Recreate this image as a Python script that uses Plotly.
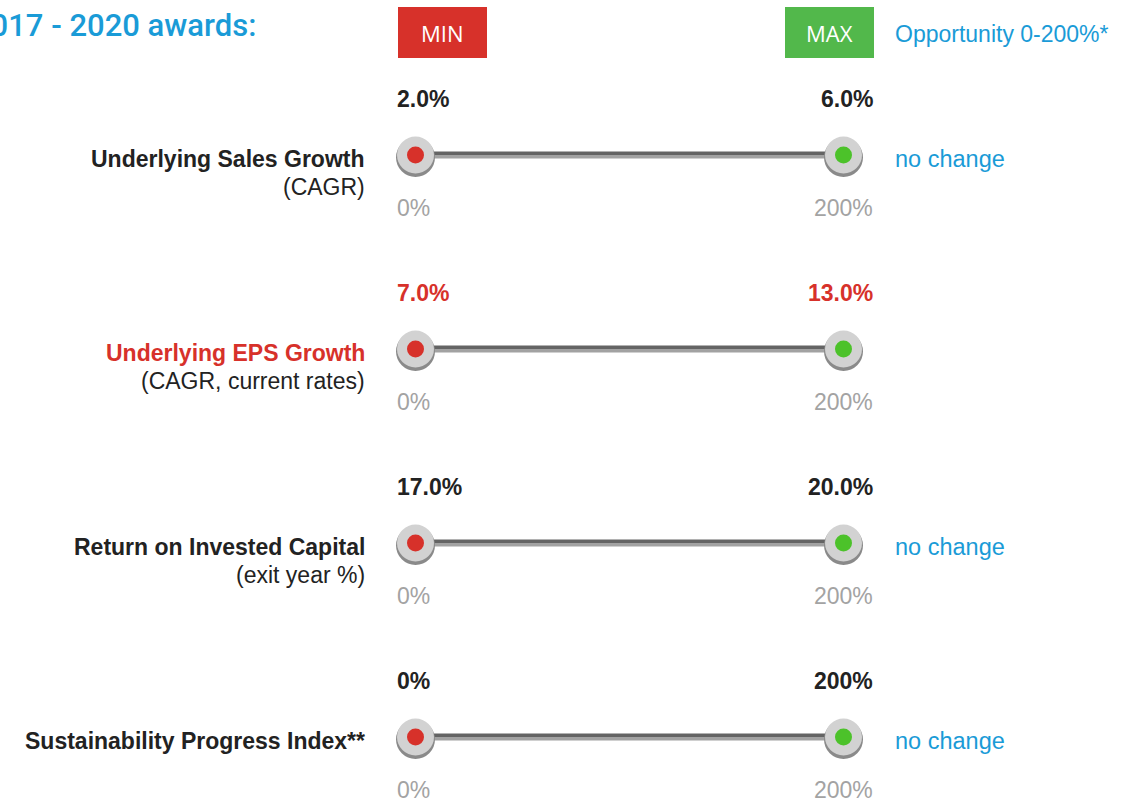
import plotly.graph_objects as go

# ---------------- data ----------------
metrics = ["Underlying Sales Growth", "Underlying EPS Growth",
           "Return on Invested Capital", "Sustainability Progress Index**"]
subtitles = ["(CAGR)", "(CAGR, current rates)", "(exit year %)", ""]
min_targets = ["2.0%", "7.0%", "17.0%", "0%"]
max_targets = ["6.0%", "13.0%", "20.0%", "200%"]
changes = ["no change", "", "no change", "no change"]
highlight = [False, True, False, False]
payout_min = 0
payout_max = 200
payout_labels = ["0%", "200%"]
title_text = "2017 - 2020 awards:"
opportunity_text = "Opportunity 0-200%*"

# ---------------- style ----------------
W, H = 1124, 805
RED = "#d7312a"
GREEN = "#52b84b"
DOT_GREEN = "#4cc22a"
BLUE = "#1a9bd7"
DARK = "#222222"
GREY_TXT = "#a3a3a3"
FONT = "Liberation Sans, Arial, sans-serif"
FS = 23

# x scale: payout %, placed so 0% at px 415.5 and 200% at px 843.5
px0, px200 = 415.5, 843.5
k = (px200 - px0) / 200.0
x_range = [(0 - px0) / k, (W - px0) / k]
# y scale: row index, row 0 at px 155, spacing 194
row_px0, row_step = 155, 194
y_range = [(H - row_px0) / row_step, (0 - row_px0) / row_step]

rows = list(range(len(metrics)))

fig = go.Figure()
shapes = []
annotations = []

for i in rows:
    # slider bar: dark top half, lighter bottom half
    shapes.append(dict(type="rect", xref="x", yref="y", ysizemode="pixel", yanchor=i,
                       x0=payout_min, x1=payout_max, y0=0, y1=3.5,
                       fillcolor="#646464", line=dict(width=0), layer="below"))
    shapes.append(dict(type="rect", xref="x", yref="y", ysizemode="pixel", yanchor=i,
                       x0=payout_min, x1=payout_max, y0=-3.5, y1=0,
                       fillcolor="#a2a2a2", line=dict(width=0), layer="below"))
    # handle shadows
    for v in (payout_min, payout_max):
        shapes.append(dict(type="circle", xref="x", yref="y",
                           xsizemode="pixel", ysizemode="pixel", xanchor=v, yanchor=i,
                           x0=-19.5, x1=19.5, y0=-22, y1=17,
                           fillcolor="#8a8a8a", line=dict(width=0), layer="below"))

# handles
fig.add_trace(go.Scatter(
    x=[payout_min] * len(rows) + [payout_max] * len(rows), y=rows + rows,
    mode="markers", marker=dict(size=37, color="#d2d2d2", line=dict(width=0)),
    hoverinfo="skip", showlegend=False))
fig.add_trace(go.Scatter(
    x=[payout_min] * len(rows), y=rows, mode="markers",
    marker=dict(size=17, color=RED, line=dict(width=0)),
    hoverinfo="skip", showlegend=False))
fig.add_trace(go.Scatter(
    x=[payout_max] * len(rows), y=rows, mode="markers",
    marker=dict(size=17, color=DOT_GREEN, line=dict(width=0)),
    hoverinfo="skip", showlegend=False))

def px_to_x(p):
    return (p - px0) / k

for i in rows:
    tcol = RED if highlight[i] else DARK
    # target labels
    annotations.append(dict(x=px_to_x(395), y=i, yshift=56, xanchor="left", yanchor="middle",
                            text="<b>%s</b>" % min_targets[i], showarrow=False,
                            font=dict(family=FONT, size=FS, color=tcol)))
    annotations.append(dict(x=px_to_x(875), y=i, yshift=56, xanchor="right", yanchor="middle",
                            text="<b>%s</b>" % max_targets[i], showarrow=False,
                            font=dict(family=FONT, size=FS, color=tcol)))
    # payout labels
    annotations.append(dict(x=px_to_x(395), y=i, yshift=-53, xanchor="left", yanchor="middle",
                            text=payout_labels[0], showarrow=False,
                            font=dict(family=FONT, size=FS, color=GREY_TXT)))
    annotations.append(dict(x=px_to_x(875), y=i, yshift=-53, xanchor="right", yanchor="middle",
                            text=payout_labels[1], showarrow=False,
                            font=dict(family=FONT, size=FS, color=GREY_TXT)))
    # metric name
    annotations.append(dict(x=px_to_x(367), y=i, yshift=-4, xanchor="right", yanchor="middle",
                            text="<b>%s</b>" % metrics[i], showarrow=False,
                            font=dict(family=FONT, size=FS, color=tcol)))
    if subtitles[i]:
        annotations.append(dict(x=px_to_x(367), y=i, yshift=-32, xanchor="right", yanchor="middle",
                                text=subtitles[i], showarrow=False,
                                font=dict(family=FONT, size=FS, color=DARK)))
    if changes[i]:
        annotations.append(dict(x=px_to_x(893), y=i, yshift=-4, xanchor="left", yanchor="middle",
                                text=changes[i], showarrow=False,
                                font=dict(family=FONT, size=23.5, color=BLUE)))

# header
hy = 1 - 32.5 / H
shapes.append(dict(type="rect", xref="paper", yref="paper",
                   x0=398 / W, x1=487 / W, y0=1 - 58 / H, y1=1 - 7 / H,
                   fillcolor=RED, line=dict(width=0)))
shapes.append(dict(type="rect", xref="paper", yref="paper",
                   x0=785 / W, x1=874 / W, y0=1 - 58 / H, y1=1 - 7 / H,
                   fillcolor=GREEN, line=dict(width=0)))
annotations.append(dict(x=442.5 / W, y=hy, xref="paper", yref="paper", text="MIN",
                        showarrow=False, xanchor="center", yanchor="middle",
                        font=dict(family="Open Sans, sans-serif", size=22, color="white")))
annotations.append(dict(x=829.5 / W, y=hy, xref="paper", yref="paper", text="MAX",
                        showarrow=False, xanchor="center", yanchor="middle",
                        font=dict(family="Open Sans, sans-serif", size=22, color="white")))
annotations.append(dict(x=893 / W, y=1 - 34 / H, xref="paper", yref="paper", text=opportunity_text,
                        showarrow=False, xanchor="left", yanchor="middle",
                        font=dict(family=FONT, size=FS, color=BLUE)))
annotations.append(dict(x=258 / W, y=1 - 26 / H, xref="paper", yref="paper", text=title_text,
                        showarrow=False, xanchor="right", yanchor="middle",
                        font=dict(family="Roboto, sans-serif", size=31, color=BLUE, weight=500)))

fig.update_layout(
    width=W, height=H, margin=dict(l=0, r=0, t=0, b=0),
    paper_bgcolor="white", plot_bgcolor="white",
    xaxis=dict(range=x_range, visible=False, fixedrange=True),
    yaxis=dict(range=y_range, visible=False, fixedrange=True),
    shapes=shapes, annotations=annotations, showlegend=False,
)

fig.write_html("out.html", config={"displayModeBar": False},
               post_script="document.body.style.margin='0';document.body.style.overflow='hidden';")
